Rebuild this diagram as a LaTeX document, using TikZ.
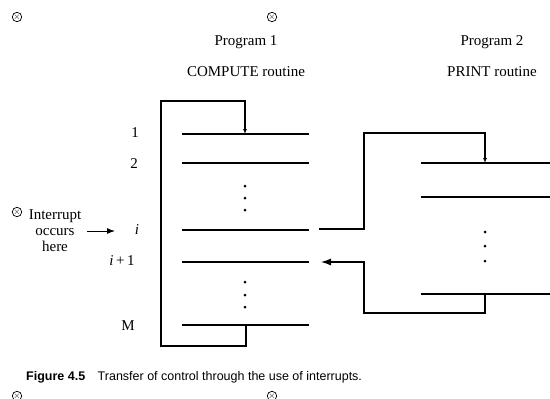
\documentclass[tikz,border=0pt]{standalone}
\usepackage{fontspec}
\setmainfont{Liberation Serif}
\newfontfamily\capfont{Liberation Sans}
\usetikzlibrary{positioning}
\usetikzlibrary{arrows.meta}

\begin{document}
\begin{tikzpicture}[x=1pt,y=-1pt,
        every node/.style={font=\fontsize{15}{16}\selectfont,inner sep=0pt},
        instr/.style={line width=1.3pt},
        flow/.style={line width=1.2pt},
        dotcol/.style={circle,fill=black,minimum size=3pt,inner sep=0pt},
        regmark/.style={circle,draw,minimum size=6pt,inner sep=0pt,line width=0.7pt,
                        font=\fontsize{9}{9}\selectfont}]
   \useasboundingbox (0,0) rectangle (550,399);
   % scan marks
   \foreach \mx/\my in {17/17,272/17,17/212,17/396,272/396}
      \node[regmark] at (\mx,\my) {$\times$};
   % headings
   \node (P1) at (246,42) {Program 1};
   \node (R1) [below=18pt of P1] {COMPUTE routine};
   \node (P2) at (492,42) {Program 2};
   \node (R2) [below=18pt of P2] {PRINT routine};
   % program 1 instructions
   \coordinate (A1) at (182,134); \coordinate (B1) at (309,134);
   \coordinate (A2) at (182,163); \coordinate (B2) at (309,163);
   \coordinate (Ai) at (182,230); \coordinate (Bi) at (309,230);
   \coordinate (Aj) at (182,262); \coordinate (Bj) at (309,262);
   \coordinate (AM) at (182,325); \coordinate (BM) at (309,325);
   \draw[instr] (A1) -- (B1) (A2) -- (B2) (Ai) -- (Bi) (Aj) -- (Bj) (AM) -- (BM);
   \node (L1) at (135,133) {1};
   \node (L2) at (134,164) {2};
   \node (Li) at (137,230) {\itshape i};
   \node (Lj) at (122,261) {{\itshape i}\,+\,1};
   \node (LM) at (128,326) {M};
   \foreach \dy in {186,198,210,282,295,307}
      \node[dotcol] at (245,\dy) {};
   % program 2 instructions
   \coordinate (C1) at (421,163); \coordinate (D1) at (550,163);
   \coordinate (C2) at (421,197); \coordinate (D2) at (550,197);
   \coordinate (CN) at (421,294); \coordinate (DN) at (550,294);
   \draw[instr] (C1) -- (D1) (C2) -- (D2) (CN) -- (DN);
   \foreach \dy in {232,246,261}
      \node[dotcol] at (485,\dy) {};
   % interrupt
   \node (IR) [align=center] at (55,231) {Interrupt\\occurs\\here};
   \coordinate (Ia) at (87,231);
   \coordinate (Ib) at (115,231);
   \draw[-{Latex[length=8pt,width=6pt]},line width=1pt] (Ia) -- (Ib);
   % control transfer
   \coordinate (S1) at (245,134);
   \coordinate (SM) at (246,325);
   \draw[flow,-{Latex[length=5pt,width=4pt]}] (SM) -- (246,346) -- (161,346) -- (161,101) -- (245,101) -- (S1);
   \coordinate (Out) at (319,229);
   \coordinate (In) at (321,262);
   \coordinate (T1) at (485,163);
   \coordinate (TN) at (485,294);
   \draw[flow,-{Latex[length=5pt,width=4pt]}] (Out) -- (364,229) -- (364,133) -- (485,133) -- (T1);
   \draw[flow,-{Latex[length=10pt,width=7pt]}] (TN) -- (485,313) -- (364,313) -- (364,262) -- (In);
   % caption
   \node (Cap) [anchor=west,font=\capfont\fontsize{12.5}{14}\selectfont] at (26,377)
      {\textbf{Figure 4.5}\quad Transfer of control through the use of interrupts.};
\end{tikzpicture}
\end{document}
